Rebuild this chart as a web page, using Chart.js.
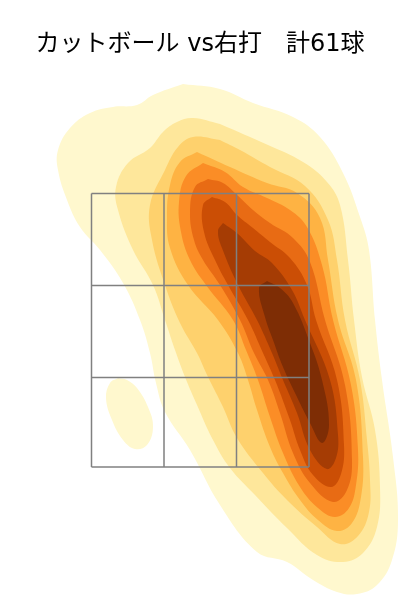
<!DOCTYPE html>
<html>
<head>
<meta charset="utf-8">
<script src="https://cdn.jsdelivr.net/npm/chart.js@4"></script>
<style>
  body { margin: 0; background: #fff; }
  canvas { display: block; }
</style>
</head>
<body>
<canvas id="myChart" width="400" height="600"></canvas>
<script>
const titleText = 'カットボール vs右打\u3000計61球';

// strike zone cell edges
const zoneX = [91.5, 164, 236.5, 309];
const zoneY = [193.5, 285.5, 377.5, 467];

// density contours, lightest to darkest
const level1 = [[183,84],[153,95],[137,105],[113,107],[90,113],[70,128],[58,150],[58,170],[67,200],[80,227],[100,250],[123,283],[140,320],[150,353],[156,383],[165,412],[190,450],[220,505],[257,552],[287,562],[313,580],[337,592],[357,594],[377,585],[392,560],[398,520],[393,457],[382,380],[375,320],[369,250],[360,217],[343,173],[320,137],[293,117],[253,103],[220,89]];
const island = [[118,378],[110,383],[106,398],[112,420],[123,440],[135,449],[147,445],[153,427],[148,407],[137,388],[127,380]];
const level2 = [[220,124],[193,118],[177,122],[163,132],[150,148],[128,163],[116,187],[118,210],[133,250],[153,285],[165,320],[175,350],[185,377],[197,405],[213,440],[230,468],[255,495],[287,528],[317,555],[343,562],[363,553],[377,527],[380,487],[375,430],[362,377],[354,320],[348,260],[340,205],[327,182],[303,162],[268,145]];
const level3 = [[220,140],[193,137],[178,147],[165,170],[150,205],[152,240],[165,285],[180,323],[197,353],[208,377],[223,407],[237,438],[263,473],[287,500],[317,527],[340,544],[358,536],[369,512],[370,480],[367,440],[360,380],[345,320],[337,260],[328,220],[305,186],[270,167],[240,150]];
const level4 = [[197,152],[180,162],[170,185],[167,217],[170,248],[188,285],[218,320],[238,353],[248,380],[257,410],[270,447],[283,473],[300,500],[318,520],[337,531],[352,523],[361,497],[363,457],[356,380],[338,320],[328,260],[320,218],[297,193],[267,183],[230,167]];
const level5 = [[203,163],[186,176],[179,202],[181,232],[190,260],[206,285],[233,320],[246,350],[258,380],[270,417],[283,453],[300,487],[318,508],[335,517],[349,508],[356,485],[358,450],[351,385],[333,320],[322,265],[307,227],[290,210],[267,198],[243,187],[225,172]];
const level6 = [[208,179],[195,187],[190,212],[194,240],[203,260],[220,285],[240,320],[254,353],[268,380],[280,413],[293,453],[310,483],[333,502],[347,490],[352,460],[345,385],[325,320],[310,262],[293,238],[270,223],[253,210],[237,195],[223,183]];
const level7 = [[212,197],[203,205],[204,232],[215,260],[228,285],[248,320],[263,353],[275,380],[290,420],[300,450],[313,475],[331,487],[341,474],[344,445],[337,380],[316,320],[307,285],[290,258],[270,242],[253,228],[237,215],[225,202]];
const level8 = [[223,223],[218,231],[222,248],[238,285],[257,320],[272,353],[283,380],[297,413],[310,450],[327,469],[336,458],[338,435],[330,380],[305,320],[292,290],[272,263],[255,251],[238,234]];
const level9 = [[267,281],[259,288],[265,317],[273,340],[283,367],[297,397],[310,423],[322,443],[329,425],[322,380],[310,343],[293,303],[280,288]];

const levelColors = ['#fff8ce', '#fee79b', '#fed16d', '#feb343', '#fb8d26', '#e86b14', '#cb4e05', '#a53c04', '#7e2d05'];

// closed filled outline through the given points
function contour(points, color) {
    const data = points.concat([points[0]]).map(p => ({x: p[0], y: p[1]}));
    return {
        data: data,
        showLine: true,
        fill: 'shape',
        backgroundColor: color,
        borderWidth: 0,
        pointRadius: 0,
        tension: 0.4
    };
}

function zoneLine(x1, y1, x2, y2) {
    return {
        data: [{x: x1, y: y1}, {x: x2, y: y2}],
        showLine: true,
        fill: false,
        borderColor: '#808080',
        borderWidth: 1.5,
        pointRadius: 0
    };
}

const xEnd = zoneX.length - 1;
const yEnd = zoneY.length - 1;
const zoneLines = [
    ...zoneX.map(x => zoneLine(x, zoneY[0], x, zoneY[yEnd])),
    ...zoneY.map(y => zoneLine(zoneX[0], y, zoneX[xEnd], y))
];

// datasets draw last to first, so the grid and the darkest level go first
const datasets = [
    ...zoneLines,
    contour(level9, levelColors[8]),
    contour(level8, levelColors[7]),
    contour(level7, levelColors[6]),
    contour(level6, levelColors[5]),
    contour(level5, levelColors[4]),
    contour(level4, levelColors[3]),
    contour(level3, levelColors[2]),
    contour(level2, levelColors[1]),
    contour(level1, levelColors[0]),
    contour(island, levelColors[0])
];

new Chart(document.getElementById('myChart'), {
    type: 'scatter',
    data: { datasets: datasets },
    options: {
        responsive: false,
        animation: false,
        layout: { padding: 0 },
        scales: {
            x: { display: false, min: 0, max: 400 },
            y: { display: false, min: 70, max: 600, reverse: true }
        },
        plugins: {
            legend: { display: false },
            tooltip: { enabled: false },
            title: {
                display: true,
                text: titleText,
                color: '#000',
                font: { family: '"DejaVu Sans", "Noto Sans CJK JP"', size: 24, weight: 'normal', lineHeight: 1.2 },
                padding: { top: 30, bottom: 11.2 }
            }
        }
    }
});
</script>
</body>
</html>
